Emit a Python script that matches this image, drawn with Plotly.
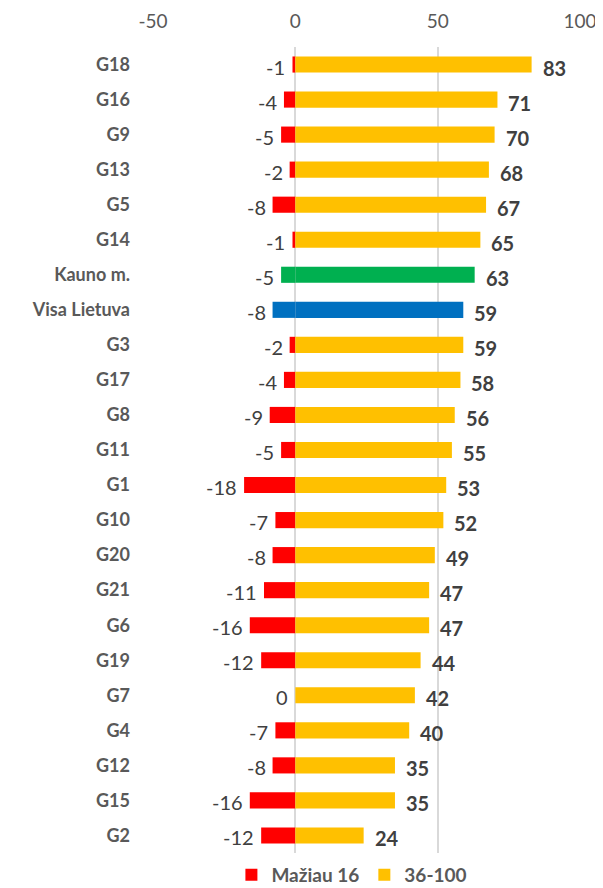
import plotly.graph_objects as go

categories = ["G18", "G16", "G9", "G13", "G5", "G14", "Kauno m.", "Visa Lietuva", "G3", "G17",
              "G8", "G11", "G1", "G10", "G20", "G21", "G6", "G19", "G7", "G4", "G12", "G15", "G2"]
under16 = [-1, -4, -5, -2, -8, -1, -5, -8, -2, -4, -9, -5, -18, -7, -8, -11, -16, -12, 0, -7, -8, -16, -12]
range36_100 = [83, 71, 70, 68, 67, 65, 63, 59, 59, 58, 56, 55, 53, 52, 49, 47, 47, 44, 42, 40, 35, 35, 24]
x_ticks = [-50, 0, 50, 100]
x_tick_labels = ["-50", "0", "50", "100"]

RED, YELLOW, GREEN, BLUE = "#FF0000", "#FFC000", "#00B050", "#0070C0"
special = {"Kauno m.": GREEN, "Visa Lietuva": BLUE}
neg_colors = [special.get(c, RED) for c in categories]
pos_colors = [special.get(c, YELLOW) for c in categories]

FONT = "Lato, 'Open Sans', sans-serif"
TXT = "#404040"

fig = go.Figure()
fig.add_trace(go.Bar(
    y=categories, x=under16, orientation="h", name="Mažiau 16",
    marker=dict(color=neg_colors, line=dict(width=0)),
    hoverinfo="x+y",
))
fig.add_trace(go.Bar(
    y=categories, x=range36_100, orientation="h", name="36-100",
    marker=dict(color=pos_colors, line=dict(width=0)),
    hoverinfo="x+y",
))

for c, v in zip(categories, under16):
    fig.add_annotation(x=v, y=c, text=str(v), showarrow=False, xanchor="right",
                       xshift=-5, yshift=-2, font=dict(family=FONT, size=20, color=TXT))
for c, v in zip(categories, range36_100):
    fig.add_annotation(x=v, y=c, text=str(v), showarrow=False, xanchor="left",
                       xshift=9, yshift=-3,
                       font=dict(family=FONT, size=20, color=TXT, weight="bold"))

# The page adds an 8px body margin, so the figure is drawn 8px smaller
fig.update_layout(
    width=595, height=880,
    margin=dict(l=145, r=23, t=39, b=35),
    barmode="relative", bargap=0.54,
    paper_bgcolor="white", plot_bgcolor="white",
    font=dict(family=FONT, color="#595959"),
    showlegend=True,
    legend=dict(orientation="h", xref="container", x=0.578, xanchor="center",
                yref="container", y=0.015, yanchor="middle",
                font=dict(family=FONT, size=19, color="#595959", weight="bold"),
                traceorder="normal", itemwidth=30),
    xaxis=dict(side="top", range=[-50, 100], tickvals=x_ticks, ticktext=x_tick_labels,
               showgrid=True, automargin=False,
               gridcolor="#D9D9D9", gridwidth=1.5, zeroline=False, showline=False,
               tickfont=dict(family=FONT, size=19, color="#595959"), ticks="",
               ticklabelstandoff=14),
    yaxis=dict(autorange="reversed", showgrid=False, zeroline=False, showline=False,
               ticks="", ticklabelstandoff=22, automargin=False,
               tickfont=dict(family=FONT, size=18, color="#595959", weight="bold")),
)

fig.write_html("out.html")
